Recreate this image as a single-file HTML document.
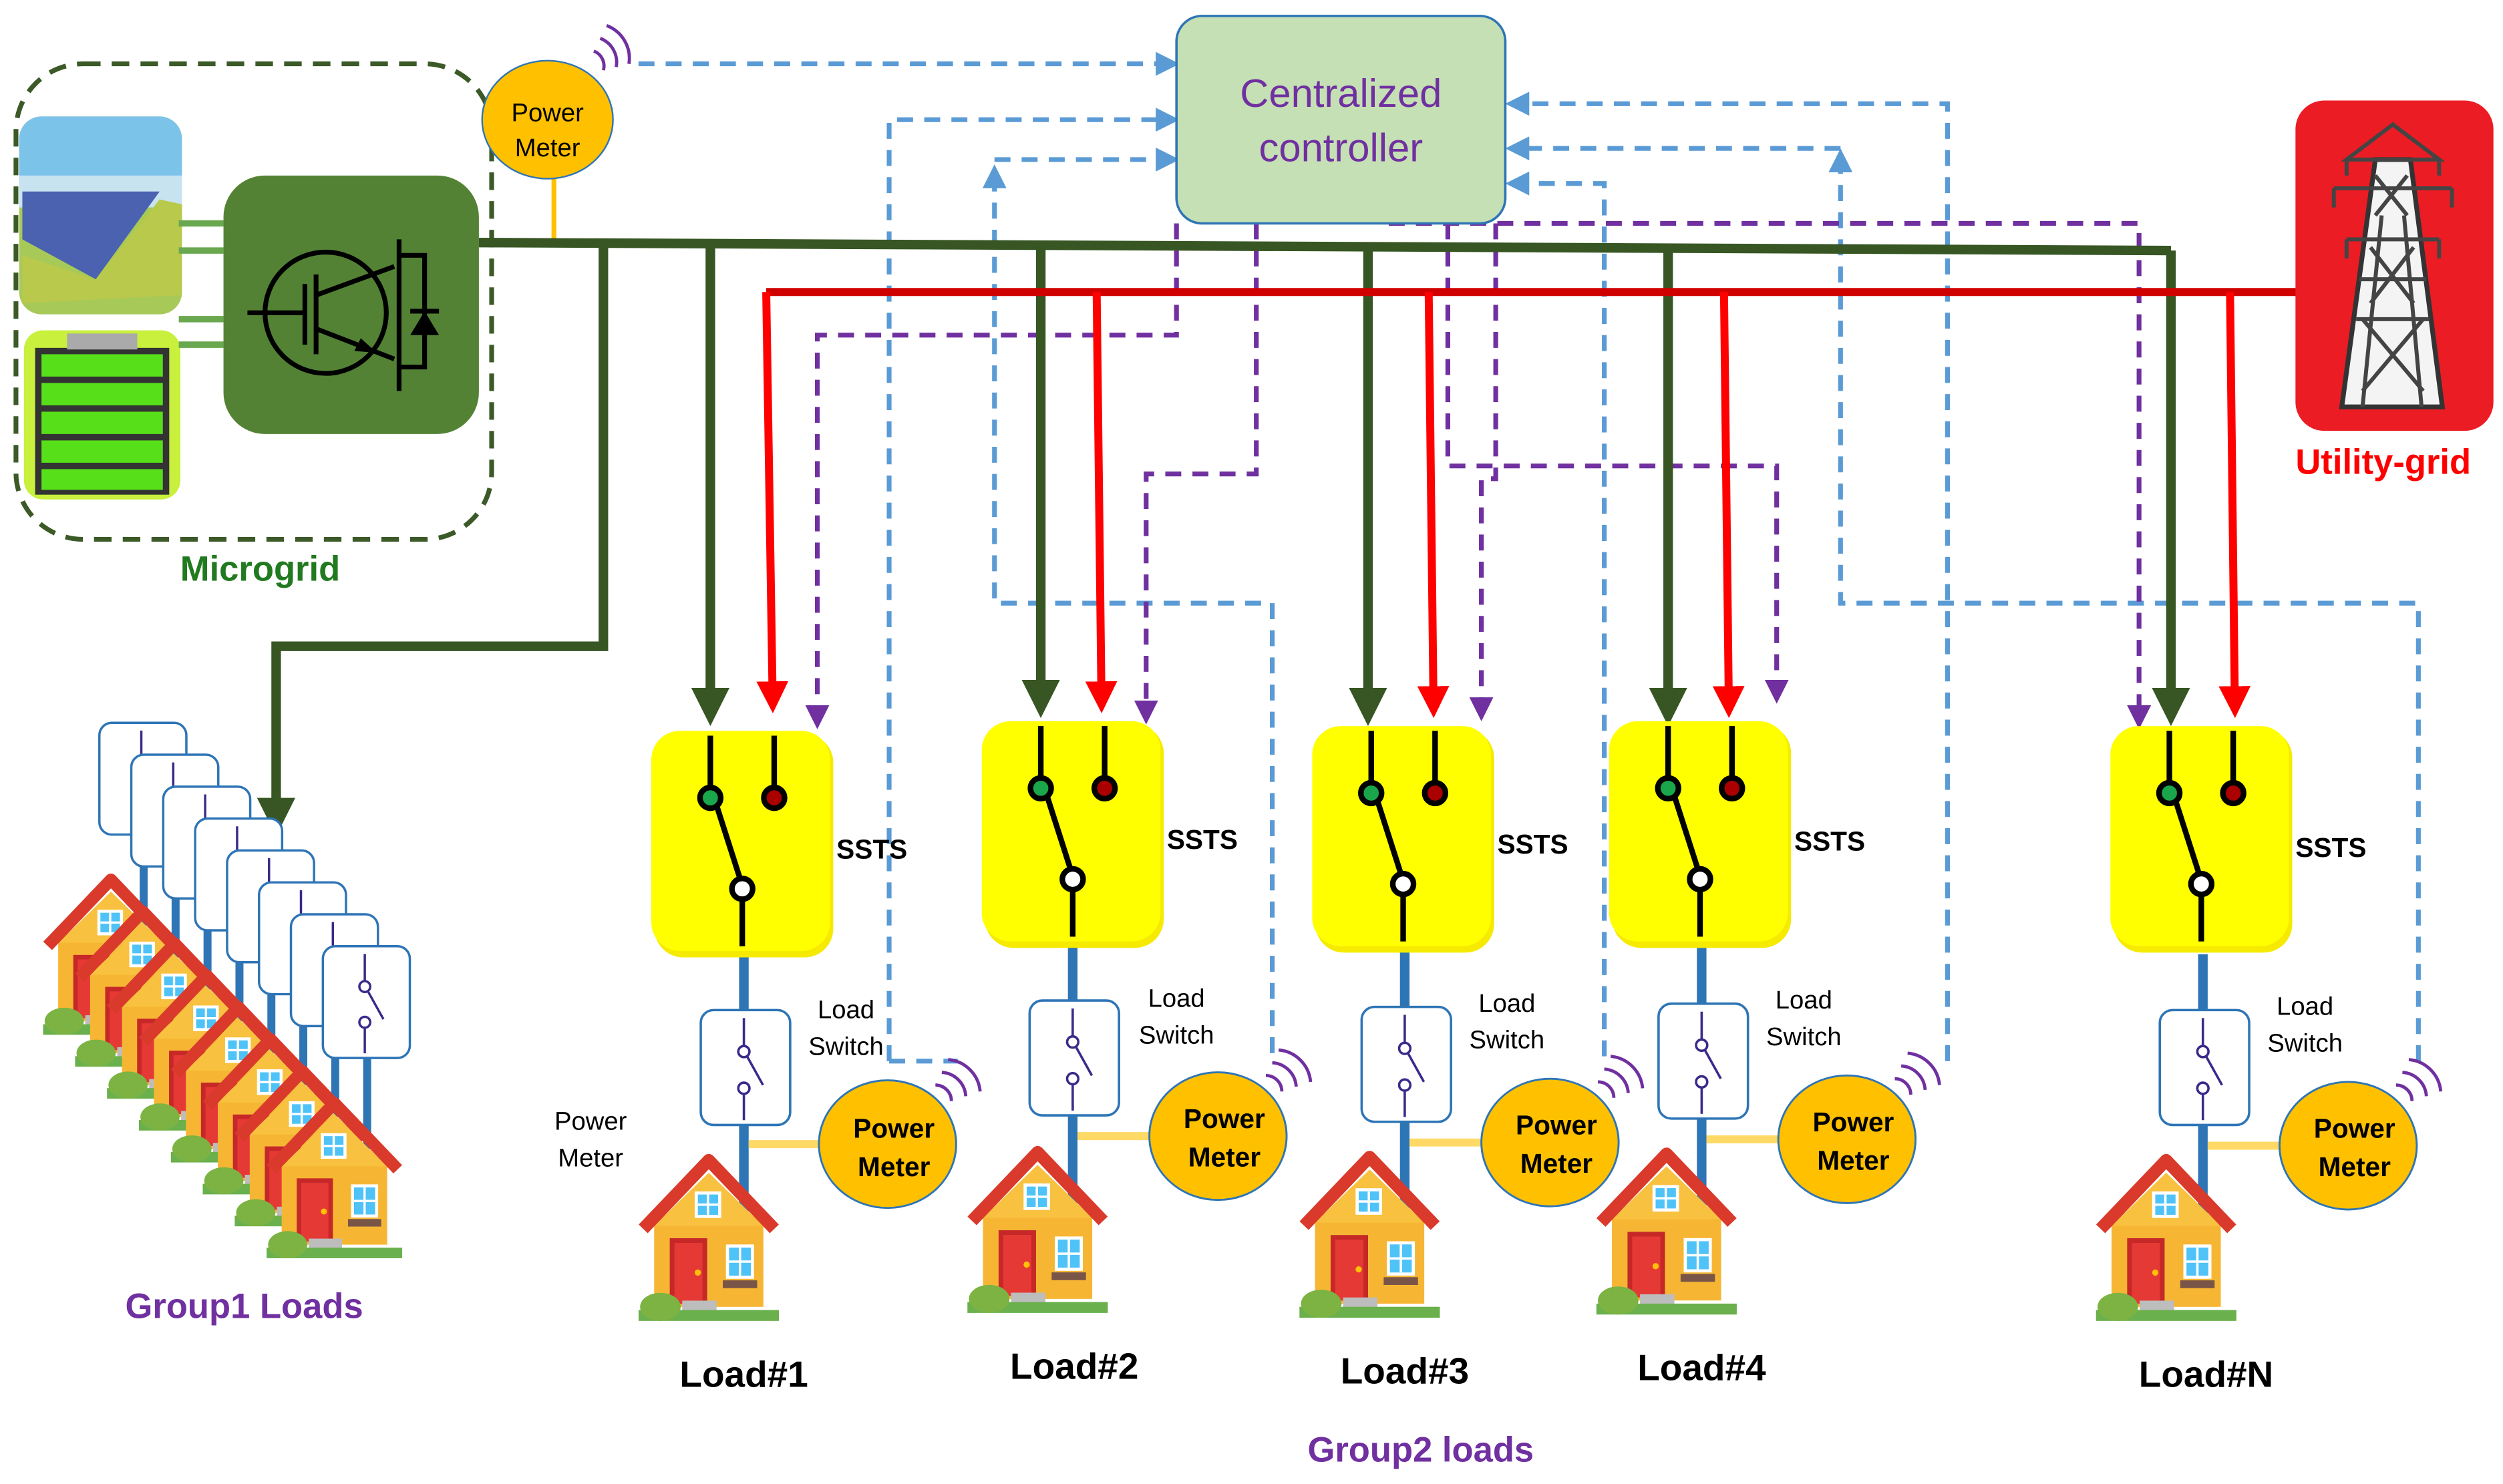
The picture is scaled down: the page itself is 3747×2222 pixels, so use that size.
<!DOCTYPE html>
<html><head><meta charset="utf-8"><style>
html,body{margin:0;padding:0;background:#fff;width:3747px;height:2222px;overflow:hidden}
svg{display:block}
text{font-family:"Liberation Sans",sans-serif}
</style></head><body>
<svg width="3747" height="2222" viewBox="0 0 1568 930" preserveAspectRatio="none" xmlns="http://www.w3.org/2000/svg">
<defs>
<marker id="ag" markerWidth="4" markerHeight="4" refX="2" refY="2" orient="auto" markerUnits="strokeWidth"><path d="M0,0L4,2L0,4Z" fill="#375623"/></marker>
<marker id="ar" markerWidth="4" markerHeight="4" refX="2" refY="2" orient="auto" markerUnits="strokeWidth"><path d="M0,0L4,2L0,4Z" fill="#ff0000"/></marker>
<marker id="ap" markerWidth="5" markerHeight="5" refX="2" refY="2.5" orient="auto" markerUnits="strokeWidth"><path d="M0,0L5,2.5L0,5Z" fill="#7030a0"/></marker>
<marker id="ab" markerWidth="5" markerHeight="5" refX="2" refY="2.5" orient="auto" markerUnits="strokeWidth"><path d="M0,0L5,2.5L0,5Z" fill="#5b9bd5"/></marker>
<symbol id="house" viewBox="0 0 90 110">
<rect x="10" y="42" width="70" height="58" fill="#f6b634"/>
<polygon points="45,14 10,48 80,48" fill="#f8c13f"/>
<path d="M3,50 L45,6 L87,50" fill="none" stroke="#d93a2b" stroke-width="8" stroke-linejoin="round"/>
<rect x="36" y="26" width="17" height="17" fill="#fff"/><rect x="38" y="28" width="13" height="13" fill="#4fc3f7"/>
<line x1="44.5" y1="28" x2="44.5" y2="41" stroke="#fff" stroke-width="1.5"/><line x1="38" y1="34.5" x2="51" y2="34.5" stroke="#fff" stroke-width="1.5"/>
<rect x="20" y="56" width="24" height="42" fill="#c62828"/><rect x="23" y="59" width="18" height="39" fill="#e53935"/>
<circle cx="38" cy="78" r="2" fill="#ffc107"/>
<rect x="56" y="60" width="18" height="22" fill="#fff"/><rect x="58" y="62" width="14" height="18" fill="#4fc3f7"/>
<line x1="65" y1="62" x2="65" y2="80" stroke="#fff" stroke-width="1.5"/><line x1="58" y1="71" x2="72" y2="71" stroke="#fff" stroke-width="1.5"/>
<rect x="54" y="83" width="22" height="5" fill="#795548"/>
<rect x="28" y="96" width="22" height="8" fill="#bdbdbd"/>
<rect x="0" y="102" width="90" height="7" fill="#6ab04c"/>
<ellipse cx="14" cy="100" rx="13" ry="9" fill="#7cb342"/>
</symbol>
<symbol id="ssts" viewBox="0 0 116 144">
<rect x="2" y="2" width="112" height="140" rx="18" fill="#f5ea00"/>
<rect x="0" y="0" width="112" height="138" rx="18" fill="#ffff00"/>
<line x1="37" y1="3" x2="37" y2="40" stroke="#000" stroke-width="3.5"/>
<line x1="77" y1="3" x2="77" y2="40" stroke="#000" stroke-width="3.5"/>
<line x1="40" y1="44" x2="57" y2="97" stroke="#000" stroke-width="3.5"/>
<line x1="57" y1="97" x2="57" y2="135" stroke="#000" stroke-width="3.5"/>
<circle cx="37" cy="42" r="6.5" fill="#1aa64a" stroke="#000" stroke-width="3.5"/>
<circle cx="77" cy="42" r="6.5" fill="#a00" stroke="#000" stroke-width="3.5"/>
<circle cx="57" cy="99" r="6.5" fill="#fff" stroke="#000" stroke-width="3.5"/>
</symbol>
<symbol id="ls" viewBox="0 0 58 74">
<rect x="1" y="1" width="56" height="72" rx="8" fill="#fff" stroke="#2e75b6" stroke-width="1.5"/>
<line x1="28" y1="6" x2="28" y2="24" stroke="#3a2a8a" stroke-width="1.5"/>
<circle cx="28" cy="27" r="3.5" fill="#fff" stroke="#3a2a8a" stroke-width="1.5"/>
<line x1="30" y1="30" x2="40" y2="48" stroke="#3a2a8a" stroke-width="1.5"/>
<circle cx="28" cy="50" r="3.5" fill="#fff" stroke="#3a2a8a" stroke-width="1.5"/>
<line x1="28" y1="54" x2="28" y2="70" stroke="#3a2a8a" stroke-width="1.5"/>
</symbol>
</defs>

<!-- microgrid -->
<rect x="10" y="40" width="298" height="298" rx="42" fill="none" stroke="#3c5a28" stroke-width="3" stroke-dasharray="11,7"/>
<rect x="12" y="73" width="102" height="124" rx="14" fill="#a7c957"/>
<rect x="12" y="73" width="102" height="55" rx="14" fill="#7cc3ea"/>
<rect x="12" y="110" width="102" height="20" fill="#c7e3f0"/>
<polygon points="14,120 100,120 60,175 14,150" fill="#4a62b0"/>
<polygon points="14,160 60,175 100,125 114,128 114,185 14,190" fill="#b8c94b"/>
<rect x="15" y="207" width="98" height="106" rx="12" fill="#c8f03c"/>
<rect x="22" y="218" width="84" height="92" fill="#333"/>
<rect x="42" y="209" width="44" height="10" fill="#aaa"/>
<g fill="#57e01a"><rect x="26" y="222" width="76" height="14"/><rect x="26" y="240" width="76" height="14"/><rect x="26" y="258" width="76" height="14"/><rect x="26" y="276" width="76" height="14"/><rect x="26" y="294" width="76" height="13"/></g>
<g stroke="#6aa84f" stroke-width="4"><line x1="112" y1="140" x2="140" y2="140"/><line x1="112" y1="157" x2="140" y2="157"/><line x1="112" y1="200" x2="140" y2="200"/><line x1="112" y1="216" x2="140" y2="216"/></g>
<rect x="140" y="110" width="160" height="162" rx="26" fill="#548235"/>
<g stroke="#000" stroke-width="3" fill="none">
<circle cx="204" cy="196" r="38"/>
<line x1="155" y1="196" x2="190" y2="196"/><line x1="191" y1="178" x2="191" y2="216"/><line x1="198" y1="172" x2="198" y2="222"/>
<line x1="198" y1="185" x2="247" y2="167"/><line x1="198" y1="206" x2="247" y2="225"/>
<line x1="250" y1="150" x2="250" y2="245"/>
<path d="M250,160 H266 V230 H250"/>
<line x1="257" y1="195" x2="275" y2="195"/>
</g>
<polygon points="257,210 275,210 266,195" fill="#000"/>
<polygon points="226,212 236,221 222,220" fill="#000"/>
<text x="163" y="364" font-size="22" font-weight="bold" fill="#217a1f" text-anchor="middle">Microgrid</text>

<!-- top power meter -->
<line x1="347" y1="110" x2="347" y2="153" stroke="#ffc000" stroke-width="3"/>
<ellipse cx="343" cy="75" rx="41" ry="37" fill="#ffc000" stroke="#2e75b6" stroke-width="1"/>
<text x="343" y="76" font-size="16" text-anchor="middle" fill="#000">Power</text>
<text x="343" y="98" font-size="16" text-anchor="middle" fill="#000">Meter</text>
<g fill="none" stroke="#7030a0" stroke-width="2">
<path d="M372,32 A10,10 0 0 1 378,44 M376,24 A16,16 0 0 1 386,42 M380,16 A22,22 0 0 1 394,40"/>
</g>

<!-- blue dashed (controller feedback) -->
<g fill="none" stroke="#5b9bd5" stroke-width="3" stroke-dasharray="10,7">
<path d="M400,40 H730" marker-end="url(#ab)"/>
<path d="M557,665 V75 H730" marker-end="url(#ab)"/>
<path d="M557,665 H600"/>
<path d="M797,660 V378 H623 V112" marker-end="url(#ab)"/>
<path d="M623,100 H730" marker-end="url(#ab)"/>
<path d="M1005,662 V115 H952" marker-end="url(#ab)"/>
<path d="M1220,665 V65 H952" marker-end="url(#ab)"/>
<path d="M1515,665 V378 H1153 V102" marker-end="url(#ab)"/>
<path d="M1153,93 H952" marker-end="url(#ab)"/>
</g>

<!-- purple dashed -->
<g fill="none" stroke="#7030a0" stroke-width="3" stroke-dasharray="10,7">
<path d="M737,140 V210 H512 V448" marker-end="url(#ap)"/>
<path d="M787,140 V297 H718 V445" marker-end="url(#ap)"/>
<path d="M937,140 V300 H928 V443" marker-end="url(#ap)"/>
<path d="M907,140 V292 H1113 V432" marker-end="url(#ap)"/>
<path d="M870,140 H1340 V448" marker-end="url(#ap)"/>
</g>

<!-- controller -->
<rect x="737" y="10" width="206" height="130" rx="16" fill="#c5e0b4" stroke="#2e75b6" stroke-width="1.5"/>
<text x="840" y="67" font-size="25" text-anchor="middle" fill="#7030a0">Centralized</text>
<text x="840" y="101" font-size="25" text-anchor="middle" fill="#7030a0">controller</text>

<!-- green bus -->
<g fill="none" stroke="#375623" stroke-width="6">
<path d="M300,152 L1360,157"/>
<path d="M378,153 V405 H173 V512" marker-end="url(#ag)"/>
<path d="M445,153 V443" marker-end="url(#ag)"/>
<path d="M652,154 V438" marker-end="url(#ag)"/>
<path d="M857,155 V443" marker-end="url(#ag)"/>
<path d="M1045,156 V443" marker-end="url(#ag)"/>
<path d="M1360,157 V443" marker-end="url(#ag)"/>
</g>
<!-- red bus -->
<g fill="none" stroke="#ff0000" stroke-width="5">
<path d="M480,183 H1440" stroke="#d00000"/>
<path d="M480,183 L484,437" marker-end="url(#ar)"/>
<path d="M687,183 L690,437" marker-end="url(#ar)"/>
<path d="M895,183 L898,440" marker-end="url(#ar)"/>
<path d="M1080,183 L1083,440" marker-end="url(#ar)"/>
<path d="M1397,183 L1400,440" marker-end="url(#ar)"/>
</g>

<!-- utility grid -->
<rect x="1438" y="63" width="124" height="207" rx="18" fill="#ec1c24"/>
<g stroke="#333" stroke-width="3" fill="#fff">
<polygon points="1488,100 1510,100 1530,255 1467,255" fill="#f4f4f4"/>
</g>
<g stroke="#444" stroke-width="2.5" fill="none">
<path d="M1480,255 L1492,135 M1517,255 L1506,135"/>
<path d="M1488,110 L1508,135 M1508,110 L1488,135 M1485,155 L1512,190 M1512,155 L1485,190 M1480,200 L1518,245 M1518,200 L1480,245"/>
<path d="M1499,78 L1470,100 H1528 Z M1462,118 H1536 M1470,150 H1528 M1478,175 H1520 M1476,200 H1522"/>
<path d="M1470,100 V110 M1528,100 V110 M1462,118 V130 M1536,118 V130 M1470,150 V162 M1528,150 V162"/>
</g>
<text x="1493" y="297" font-size="22" font-weight="bold" fill="#ff0000" text-anchor="middle">Utility-grid</text>

<!-- Group2 loads -->
<g>
<g stroke="#2e75b6" stroke-width="6">
<line x1="466" y1="598" x2="466" y2="760"/>
<line x1="672" y1="593" x2="672" y2="755"/>
<line x1="880" y1="596" x2="880" y2="758"/>
<line x1="1066" y1="594" x2="1066" y2="756"/>
<line x1="1380" y1="598" x2="1380" y2="760"/>
</g>
<g stroke="#ffd966" stroke-width="5">
<line x1="469" y1="717" x2="515" y2="717"/>
<line x1="675" y1="712" x2="722" y2="712"/>
<line x1="883" y1="716" x2="930" y2="716"/>
<line x1="1069" y1="714" x2="1116" y2="714"/>
<line x1="1383" y1="718" x2="1430" y2="718"/>
</g>
<use href="#ssts" x="408" y="458" width="116" height="144"/>
<use href="#ssts" x="615" y="452" width="116" height="144"/>
<use href="#ssts" x="822" y="455" width="116" height="144"/>
<use href="#ssts" x="1008" y="452" width="116" height="144"/>
<use href="#ssts" x="1322" y="455" width="116" height="144"/>
<g font-size="17" font-weight="bold" fill="#000">
<text x="524" y="538">SSTS</text><text x="731" y="532">SSTS</text><text x="938" y="535">SSTS</text><text x="1124" y="533">SSTS</text><text x="1438" y="537">SSTS</text>
</g>
<use href="#ls" x="438" y="632" width="58" height="74"/>
<use href="#ls" x="644" y="626" width="58" height="74"/>
<use href="#ls" x="852" y="630" width="58" height="74"/>
<use href="#ls" x="1038" y="628" width="58" height="74"/>
<use href="#ls" x="1352" y="632" width="58" height="74"/>
<g font-size="16" fill="#000" text-anchor="middle">
<text x="530" y="638">Load</text><text x="530" y="661">Switch</text>
<text x="737" y="631">Load</text><text x="737" y="654">Switch</text>
<text x="944" y="634">Load</text><text x="944" y="657">Switch</text>
<text x="1130" y="632">Load</text><text x="1130" y="655">Switch</text>
<text x="1444" y="636">Load</text><text x="1444" y="659">Switch</text>
<text x="370" y="708">Power</text><text x="370" y="731">Meter</text>
</g>
<g fill="#ffc000" stroke="#2e75b6" stroke-width="1.2">
<ellipse cx="556" cy="717" rx="43" ry="40"/>
<ellipse cx="763" cy="712" rx="43" ry="40"/>
<ellipse cx="971" cy="716" rx="43" ry="40"/>
<ellipse cx="1157" cy="714" rx="43" ry="40"/>
<ellipse cx="1471" cy="718" rx="43" ry="40"/>
</g>
<g font-size="17" font-weight="bold" fill="#000" text-anchor="middle">
<text x="560" y="713">Power</text><text x="560" y="737">Meter</text>
<text x="767" y="707">Power</text><text x="767" y="731">Meter</text>
<text x="975" y="711">Power</text><text x="975" y="735">Meter</text>
<text x="1161" y="709">Power</text><text x="1161" y="733">Meter</text>
<text x="1475" y="713">Power</text><text x="1475" y="737">Meter</text>
</g>
<g fill="none" stroke="#7030a0" stroke-width="2">
<path d="M586,680 A10,10 0 0 1 596,690 M590,672 A16,16 0 0 1 605,687 M594,664 A22,22 0 0 1 614,684"/>
<path d="M793,674 A10,10 0 0 1 803,684 M797,666 A16,16 0 0 1 812,681 M801,658 A22,22 0 0 1 821,678"/>
<path d="M1001,678 A10,10 0 0 1 1011,688 M1005,670 A16,16 0 0 1 1020,685 M1009,662 A22,22 0 0 1 1029,682"/>
<path d="M1187,676 A10,10 0 0 1 1197,686 M1191,668 A16,16 0 0 1 1206,683 M1195,660 A22,22 0 0 1 1215,680"/>
<path d="M1501,680 A10,10 0 0 1 1511,690 M1505,672 A16,16 0 0 1 1520,687 M1509,664 A22,22 0 0 1 1529,684"/>
</g>
<use href="#house" x="400" y="720" width="88" height="110"/>
<use href="#house" x="606" y="715" width="88" height="110"/>
<use href="#house" x="814" y="718" width="88" height="110"/>
<use href="#house" x="1000" y="716" width="88" height="110"/>
<use href="#house" x="1313" y="720" width="88" height="110"/>
<g font-size="23" font-weight="bold" fill="#000" text-anchor="middle">
<text x="466" y="869">Load#1</text><text x="673" y="864">Load#2</text><text x="880" y="867">Load#3</text><text x="1066" y="865">Load#4</text><text x="1382" y="869">Load#N</text>
</g>
<text x="890" y="916" font-size="22" font-weight="bold" fill="#7030a0" text-anchor="middle">Group2 loads</text>
</g>

<!-- Group1 loads -->
<g>
<g stroke="#2e75b6" stroke-width="5">
<line x1="90" y1="522" x2="90" y2="580"/><line x1="110" y1="542" x2="110" y2="600"/><line x1="130" y1="562" x2="130" y2="620"/><line x1="150" y1="582" x2="150" y2="640"/><line x1="170" y1="602" x2="170" y2="660"/><line x1="190" y1="622" x2="190" y2="680"/><line x1="210" y1="642" x2="210" y2="700"/><line x1="230" y1="662" x2="230" y2="720"/>
</g>
<use href="#ls" x="57" y="452" width="65" height="72"/>
<use href="#ls" x="77" y="472" width="65" height="72"/>
<use href="#ls" x="97" y="492" width="65" height="72"/>
<use href="#ls" x="117" y="512" width="65" height="72"/>
<use href="#ls" x="137" y="532" width="65" height="72"/>
<use href="#ls" x="157" y="552" width="65" height="72"/>
<use href="#ls" x="177" y="572" width="65" height="72"/>
<use href="#ls" x="197" y="592" width="65" height="72"/>
<use href="#house" x="27" y="545" width="85" height="105"/>
<use href="#house" x="47" y="565" width="85" height="105"/>
<use href="#house" x="67" y="585" width="85" height="105"/>
<use href="#house" x="87" y="605" width="85" height="105"/>
<use href="#house" x="107" y="625" width="85" height="105"/>
<use href="#house" x="127" y="645" width="85" height="105"/>
<use href="#house" x="147" y="665" width="85" height="105"/>
<use href="#house" x="167" y="685" width="85" height="105"/>
<text x="153" y="826" font-size="22" font-weight="bold" fill="#7030a0" text-anchor="middle">Group1 Loads</text>
</g>
</svg>
</body></html>
